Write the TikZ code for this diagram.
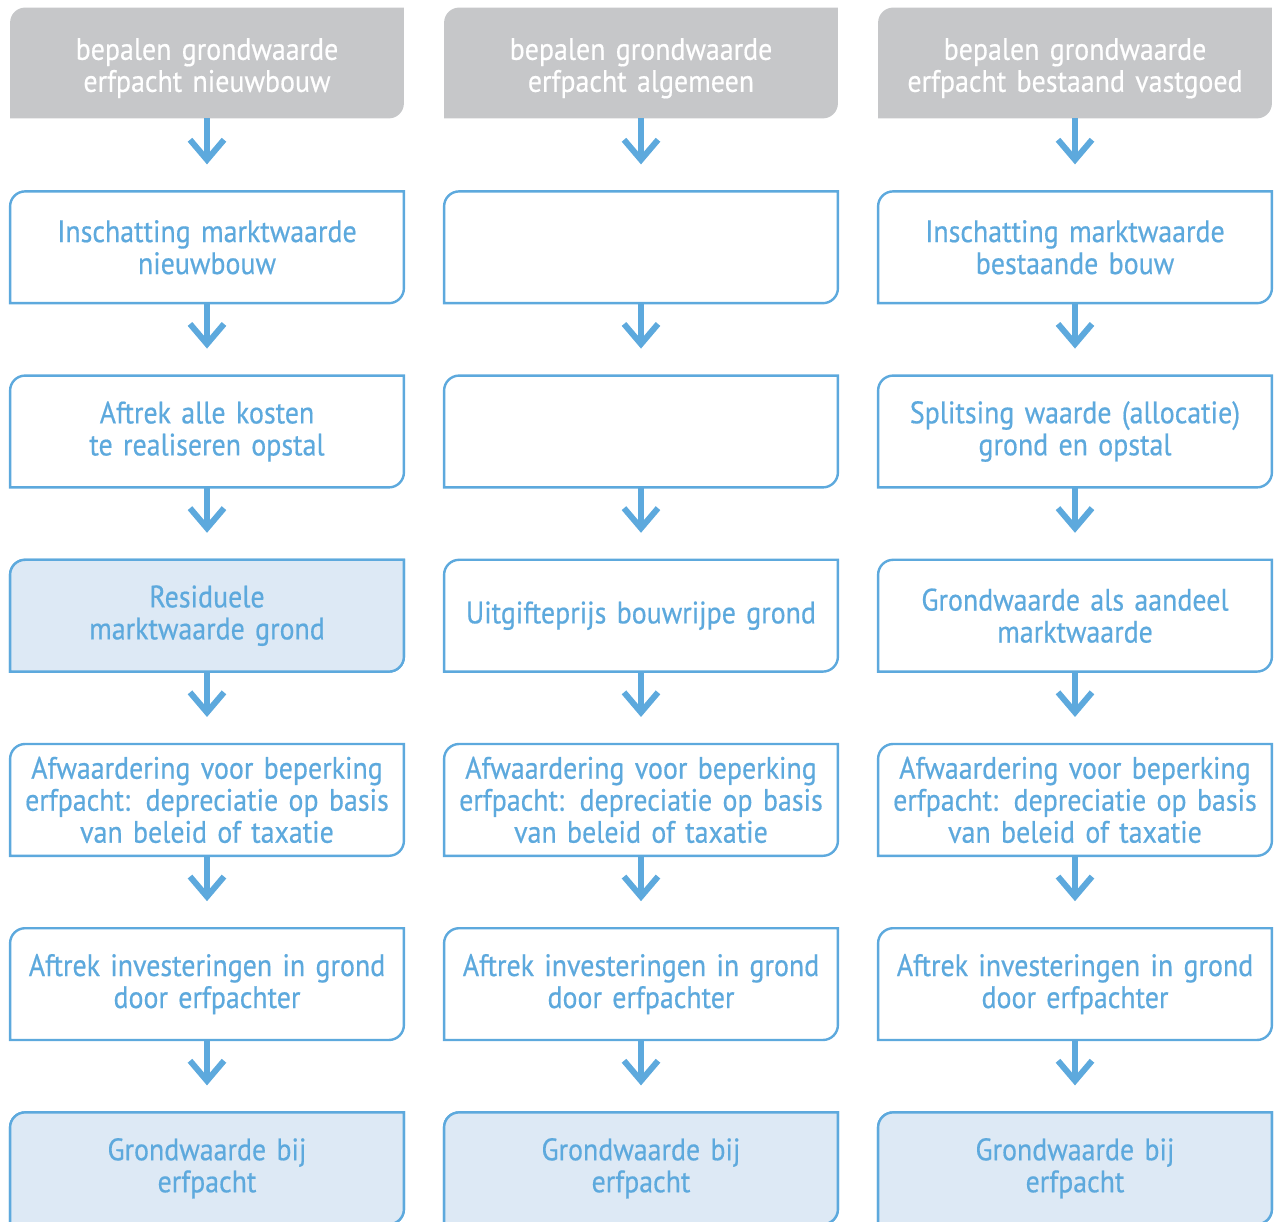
\documentclass[tikz,border=0pt]{standalone}
\usepackage{fontspec}
\setmainfont[FakeStretch=0.9,WordSpace=0.8,FakeBold=0.5]{PT Sans}
\usepackage{tikz}
\usetikzlibrary{arrows.meta}
\usetikzlibrary{positioning}
\usetikzlibrary{backgrounds}

\definecolor{flowblue}{RGB}{93,169,221}
\definecolor{flowfill}{RGB}{221,233,245}
\definecolor{headgrey}{RGB}{198,199,201}

\tikzset{
  stepnode/.style={minimum width=196.5pt, minimum height=55.5pt, text width=192pt,
    align=center, inner sep=0pt, text=flowblue, font=\fontsize{15.5}{16}\selectfont},
  headnode/.style={stepnode, minimum height=55pt, text=white, text depth=14pt},
  boxline/.style={draw=flowblue, line width=1.2pt},
  flowarrow/.style={draw=flowblue, line width=3pt,
    -{Straight Barb[length=10pt,width=17pt]}, shorten >=13.5pt},
}

% outline with top-left and bottom-right corners rounded
\newcommand{\cornerbox}[2]{%
  \path[#2] (#1.north east) -- ([yshift=7.5pt]#1.south east)
    arc[start angle=0,end angle=-90,radius=7.5pt] -- (#1.south west)
    -- ([yshift=-7.5pt]#1.north west)
    arc[start angle=180,end angle=90,radius=7.5pt] -- cycle;}

\begin{document}
\begin{tikzpicture}[node distance=36.2pt]
\useasboundingbox (0,0) rectangle (639pt,610.5pt);

\node[headnode] (h1) at (103.5pt,579pt) {bepalen grondwaarde\\erfpacht nieuwbouw};
\node[headnode] (h2) at (320.5pt,579pt) {bepalen grondwaarde\\erfpacht algemeen};
\node[headnode] (h3) at (537.5pt,579pt) {bepalen grondwaarde\\erfpacht bestaand vastgoed};

\node[stepnode, below=36.5pt of h1] (s11) {Inschatting marktwaarde\\nieuwbouw};
\node[stepnode, below=of s11] (s12) {Aftrek alle kosten\\te realiseren opstal};
\node[stepnode, below=of s12] (s13) {Residuele\\marktwaarde grond};
\node[stepnode, below=of s13] (s14) {Afwaardering voor beperking\\erfpacht: depreciatie op basis\\van beleid of taxatie};
\node[stepnode, below=of s14] (s15) {Aftrek investeringen in grond\\door erfpachter};
\node[stepnode, below=of s15] (s16) {Grondwaarde bij\\erfpacht};

\node[stepnode, below=36.5pt of h2] (s21) {};
\node[stepnode, below=of s21] (s22) {};
\node[stepnode, below=of s22] (s23) {Uitgifteprijs bouwrijpe grond};
\node[stepnode, below=of s23] (s24) {Afwaardering voor beperking\\erfpacht: depreciatie op basis\\van beleid of taxatie};
\node[stepnode, below=of s24] (s25) {Aftrek investeringen in grond\\door erfpachter};
\node[stepnode, below=of s25] (s26) {Grondwaarde bij\\erfpacht};

\node[stepnode, below=36.5pt of h3] (s31) {Inschatting marktwaarde\\bestaande bouw};
\node[stepnode, below=of s31] (s32) {Splitsing waarde (allocatie)\\grond en opstal};
\node[stepnode, below=of s32] (s33) {Grondwaarde als aandeel\\marktwaarde};
\node[stepnode, below=of s33] (s34) {Afwaardering voor beperking\\erfpacht: depreciatie op basis\\van beleid of taxatie};
\node[stepnode, below=of s34] (s35) {Aftrek investeringen in grond\\door erfpachter};
\node[stepnode, below=of s35] (s36) {Grondwaarde bij\\erfpacht};

\begin{scope}[on background layer]
\foreach \c in {1,2,3} {
  \cornerbox{h\c}{fill=headgrey}
  \foreach \r in {1,...,6} {\cornerbox{s\c\r}{boxline, fill=white}}
}
\foreach \n in {s13,s16,s26,s36} {\cornerbox{\n}{boxline, fill=flowfill}}
\end{scope}

\foreach \c in {1,2,3} {
  \draw[flowarrow] (h\c.south) -- (s\c1.north);
  \foreach \r/\q in {1/2,2/3,3/4,4/5,5/6}
    \draw[flowarrow] (s\c\r.south) -- (s\c\q.north);
}
\end{tikzpicture}
\end{document}
